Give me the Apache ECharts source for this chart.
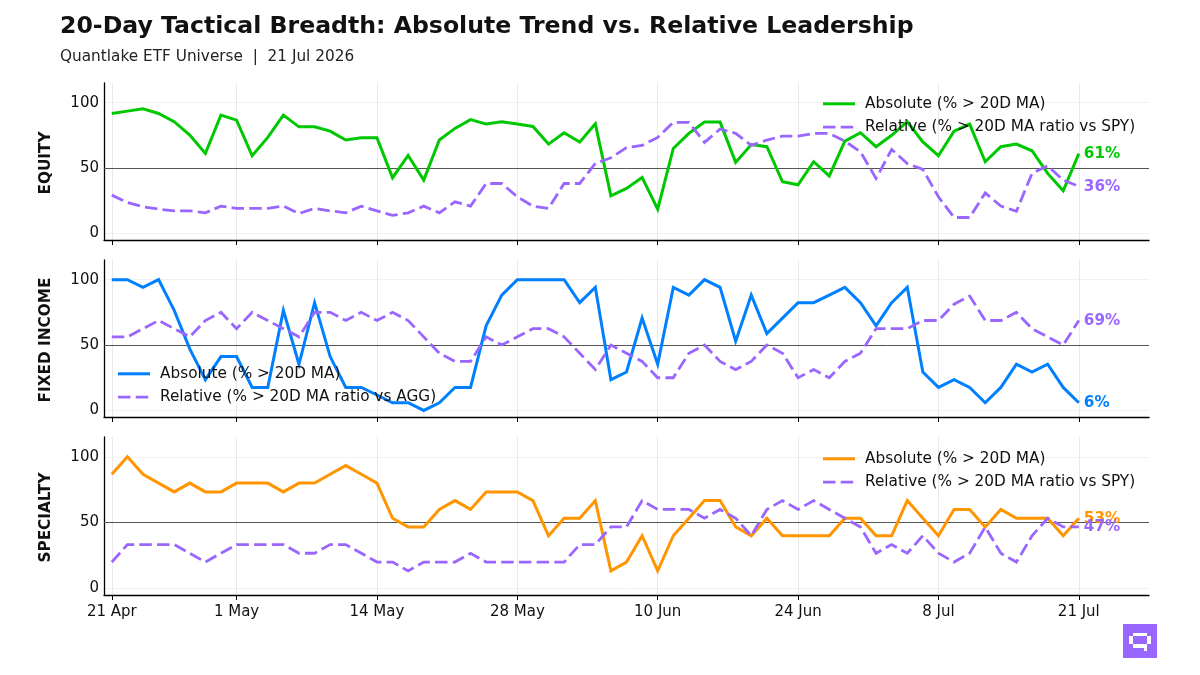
<!DOCTYPE html>
<html>
<head>
<meta charset="utf-8">
<style>html,body{margin:0;padding:0;background:#fff}#c{width:1200px;height:675px}</style>
<script src="https://cdn.jsdelivr.net/npm/echarts@6/dist/echarts.min.js"></script>
</head>
<body>
<div id="c"></div>
<script>
// Session positions of the labelled dates within the 63-day window
const tickSessions = [0, 8, 17, 26, 35, 44, 53, 62];
const tickLabels = ['21 Apr', '1 May', '14 May', '28 May', '10 Jun', '24 Jun', '8 Jul', '21 Jul'];
const yTicks = [0, 50, 100];

// Share of ETFs above their 20-day average, per session
const equityAbsolute = [91.7,93.5,95.3,91.7,85.4,75.2,61.2,90.5,86.6,59.4,73.4,90.5,81.5,81.5,78.2,71.4,73.1,73.1,42.6,59.6,40.8,71.4,80.3,87,83.6,85.4,83.6,81.8,68.3,77,69.8,83.8,28.8,34.4,42.8,18.6,65,76.5,85.1,85.1,54.3,68,66.3,39.5,37.2,54.8,44,70.6,77,66.3,75,85.4,70,59.4,78.2,83.6,54.8,66.3,68.3,63.2,45.9,32.6,61];
const equityRelative = [29.3,23.7,20.4,18.6,17.3,17.3,15.8,20.9,19.1,19.1,19.1,20.9,15.3,19.1,17.3,15.8,20.9,17.3,13.8,15.8,20.9,15.8,24.2,20.9,38.2,38.2,28,20.9,19.1,38.2,38.2,53.5,57.8,65.7,67.3,73.4,84.9,84.9,69.6,79.8,76.5,67.3,71.4,74.4,74.4,76.5,76.5,70.6,62.4,42,64.2,53.5,48.9,28,12.2,12.2,31,20.9,17,45.9,51.7,40.8,36];
const fixedAbsolute = [100,100,94.1,100,76.5,47.1,23.5,41.2,41.2,17.6,17.6,76.5,35.3,82.4,41.2,17.6,17.6,11.8,5.9,5.9,0,5.9,17.6,17.6,64.7,88.2,100,100,100,100,82.4,94.1,23.5,29.4,70.6,35.3,94.1,88.2,100,94.1,52.9,88.2,58.8,70.6,82.4,82.4,88.2,94.1,82.4,64.7,82.4,94.1,29.4,17.6,23.5,17.6,5.9,17.6,35.3,29.4,35.3,17.6,5.9];
const fixedRelative = [56.25,56.25,62.5,68.75,62.5,56.25,68.75,75,62.5,75,68.75,62.5,56.25,75,75,68.75,75,68.75,75,68.75,56.25,43.75,37.5,37.5,56.25,50,56.25,62.5,62.5,56.25,43.75,31.25,50,43.75,37.5,25,25,43.75,50,37.5,31.25,37.5,50,43.75,25,31.25,25,37.5,43.75,62.5,62.5,62.5,68.75,68.75,81.25,87.5,68.75,68.75,75,62.5,56.25,50,68.75];
const specialtyAbsolute = [86.7,100,86.7,80,73.3,80,73.3,73.3,80,80,80,73.3,80,80,86.7,93.3,86.7,80,53.3,46.7,46.7,60,66.7,60,73.3,73.3,73.3,66.7,40,53.3,53.3,66.7,13.3,20,40,13.3,40,53.3,66.7,66.7,46.7,40,53.3,40,40,40,40,53.3,53.3,40,40,66.7,53.3,40,60,60,46.7,60,53.3,53.3,53.3,40,53.3];
const specialtyRelative = [20,33.3,33.3,33.3,33.3,26.7,20,26.7,33.3,33.3,33.3,33.3,26.7,26.7,33.3,33.3,26.7,20,20,13.3,20,20,20,26.7,20,20,20,20,20,20,33.3,33.3,46.7,46.7,66.7,60,60,60,53.3,60,53.3,40,60,66.7,60,66.7,60,53.3,46.7,26.7,33.3,26.7,40,26.7,20,26.7,46.7,26.7,20,40,53.3,46.7,46.7];

const absoluteName = 'Absolute (% > 20D MA)';
const relativeSpy = 'Relative (% > 20D MA ratio vs SPY)';
const relativeAgg = 'Relative (% > 20D MA ratio vs AGG)';

const purple = '#9966ff';
const font = '"DejaVu Sans"';
const dash = [12.5, 5.2];
// The legend keys show only the line stroke, so their centre marker is hidden
const hiddenMarker = { color: 'rgba(0,0,0,0)', borderWidth: 0, opacity: 0 };

const panels = [
  { title: 'EQUITY', top: 83, height: 157, color: '#00c800', abs: equityAbsolute, rel: equityRelative, relName: relativeSpy, legend: { left: 821.5, top: 96.3 } },
  { title: 'FIXED INCOME', top: 260, height: 157, color: '#0080ff', abs: fixedAbsolute, rel: fixedRelative, relName: relativeAgg, legend: { left: 116.5, top: 366.3 } },
  { title: 'SPECIALTY', top: 437, height: 158, color: '#ff9500', abs: specialtyAbsolute, rel: specialtyRelative, relName: relativeSpy, legend: { left: 821.5, top: 451.3 } }
];

const points = values => values.map((v, i) => [i, v]);

const endLabel = color => ({
  show: true,
  distance: 5,
  offset: [0, 0.5],
  color,
  fontFamily: font,
  fontWeight: 'bold',
  fontSize: 15.2,
  formatter: p => Math.round(p.value[1]) + '%'
});

const option = {
  animation: false,
  backgroundColor: '#fff',
  title: [
    { text: '20-Day Tactical Breadth: Absolute Trend vs. Relative Leadership', left: 60, top: 15, padding: 0,
      textStyle: { fontFamily: font, fontWeight: 'bold', fontSize: 23.6, color: '#111' } },
    { text: 'Quantlake ETF Universe  |  21 Jul 2026', left: 60, top: 50, padding: 0,
      textStyle: { fontFamily: font, fontWeight: 'normal', fontSize: 15.3, color: '#222' } }
  ],
  grid: panels.map(p => ({ left: 104, right: 51, top: p.top, height: p.height })),
  xAxis: panels.map((p, k) => ({
    gridIndex: k,
    type: 'value',
    min: -0.5,
    max: 66.5,
    axisLine: { onZero: false, lineStyle: { color: '#000', width: 1.3 } },
    axisTick: { show: true, length: 5, customValues: tickSessions, lineStyle: { color: '#000', width: 1 } },
    axisLabel: {
      show: k === 2,
      customValues: tickSessions,
      margin: 10,
      color: '#111',
      fontFamily: font,
      fontSize: 15,
      formatter: v => tickLabels[tickSessions.indexOf(v)]
    },
    splitLine: { show: true, lineStyle: { color: '#e8e8ee', width: 1 } }
  })),
  yAxis: panels.map((p, k) => ({
    gridIndex: k,
    type: 'value',
    min: -5,
    max: 115,
    name: p.title,
    nameLocation: 'middle',
    nameRotate: 90,
    nameGap: 50,
    nameTextStyle: { fontFamily: font, fontWeight: 'bold', fontSize: 15.3, color: '#111', padding: [0, 3, 0, 0] },
    axisLine: { show: true, onZero: false, lineStyle: { color: '#000', width: 1.3 } },
    axisTick: { show: false, customValues: yTicks },
    axisLabel: { customValues: yTicks, margin: 5, color: '#111', fontFamily: font, fontSize: 15, padding: [3, 0, 0, 0] },
    splitLine: { show: true, lineStyle: { color: '#f1f1f1', width: 1 } }
  })),
  legend: panels.map(p => ({
    orient: 'vertical',
    left: p.legend.left,
    top: p.legend.top,
    padding: 0,
    itemWidth: 32,
    itemHeight: 14,
    itemGap: 8.4,
    selectedMode: false,
    textStyle: { fontFamily: font, fontSize: 15.3, color: '#111', padding: [2, 0, 0, 5] },
    data: [
      { name: absoluteName, lineStyle: { color: p.color, width: 3, type: 'solid' }, itemStyle: hiddenMarker },
      { name: p.relName, lineStyle: { color: purple, width: 2.8, type: dash }, itemStyle: hiddenMarker }
    ]
  })),
  series: panels.flatMap((p, k) => [
    {
      type: 'line', name: absoluteName, xAxisIndex: k, yAxisIndex: k, z: 3,
      data: points(p.abs), symbol: 'none',
      lineStyle: { color: p.color, width: 3, join: 'miter' },
      itemStyle: { color: p.color },
      endLabel: endLabel(p.color),
      markLine: {
        silent: true, symbol: 'none', z: 1, label: { show: false },
        lineStyle: { color: '#555', width: 1, type: 'solid' },
        data: [{ yAxis: 50 }]
      }
    },
    {
      type: 'line', name: p.relName, xAxisIndex: k, yAxisIndex: k, z: 4,
      data: points(p.rel), symbol: 'none',
      lineStyle: { color: purple, width: 2.8, type: dash, join: 'miter' },
      itemStyle: { color: purple },
      endLabel: endLabel(purple)
    }
  ]),
  // Pixel-art speech badge in the lower right corner
  graphic: [{
    type: 'group', left: 1123, top: 624,
    children: [
      { type: 'rect', shape: { x: 0, y: 0, width: 34, height: 34 }, style: { fill: purple } },
      { type: 'rect', shape: { x: 6, y: 12, width: 4, height: 8 }, style: { fill: '#fff' } },
      { type: 'rect', shape: { x: 24, y: 12, width: 4, height: 8 }, style: { fill: '#fff' } },
      { type: 'rect', shape: { x: 10, y: 9, width: 14, height: 3 }, style: { fill: '#fff' } },
      { type: 'rect', shape: { x: 10, y: 20, width: 14, height: 4 }, style: { fill: '#fff' } },
      { type: 'rect', shape: { x: 21, y: 24, width: 3, height: 3 }, style: { fill: '#fff' } }
    ]
  }]
};

echarts.init(document.getElementById('c'), null, { renderer: 'canvas' }).setOption(option);
</script>
</body>
</html>
